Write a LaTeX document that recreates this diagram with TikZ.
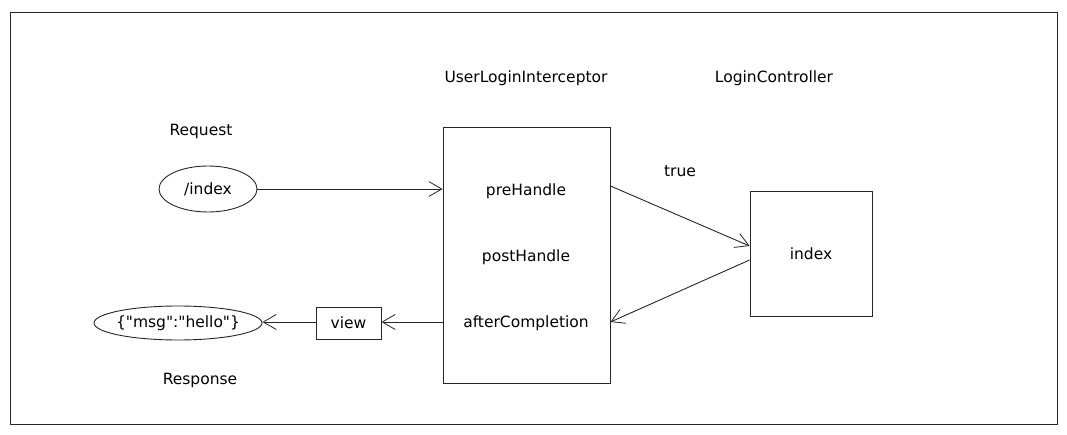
\documentclass[tikz,border=0pt]{standalone}
\usepackage{fontspec}
\setmainfont{DejaVu Sans}
\newfontfamily\rawdv{DejaVu Sans}
\usetikzlibrary{arrows.meta,shapes.geometric}
\begin{document}
\begin{tikzpicture}[x=1pt,y=-1pt,
  sk/.style={draw=black!85,line width=0.9pt},
  lbl/.style={font=\fontsize{15.5}{18}\selectfont,inner sep=0pt},
  arr/.style={draw=black!85,line width=0.9pt,-{Straight Barb[length=13pt,width=15pt,line width=0.8pt]}}]
\useasboundingbox (0,0) rectangle (1067,435);
\draw[black!85,line width=0.8pt] (10,12) rectangle (1057,424);
\node[lbl] (t1) at (526,78) {UserLoginInterceptor};
\node[lbl] (t2) at (774,78) {LoginController};
\node[lbl] (req) at (201,131) {Request};
\node[lbl] (resp) at (200,380) {Response};
\node[sk,ellipse,minimum width=98pt,minimum height=46pt,lbl] (idx) at (208,189) {/index};
\node[sk,rectangle,minimum width=167pt,minimum height=256pt] (ic) at (526.5,255) {};
\node[lbl] (pre) at (526,191) {preHandle};
\node[lbl] (post) at (526,257) {postHandle};
\node[lbl] (after) at (526,323) {afterCompletion};
\node[lbl] (tr) at (680,171) {true};
\node[sk,rectangle,minimum width=122pt,minimum height=125pt,lbl] (ctl) at (811,253.5) {index};
\node[sk,rectangle,minimum width=65pt,minimum height=32pt,lbl] (view) at (348.5,323) {view};
\node[sk,ellipse,minimum width=168pt,minimum height=34pt,inner sep=0pt] (msg) at (178,323) {};
\node[lbl] (msgt) at (msg.center) {\rawdv \{"msg":"hello"\}};
\draw[arr] (idx.east) -- (ic.west |- idx.east);
\draw[arr] (ic.east |- 0,186) -- (ctl.west |- 0,246);
\draw[arr] (ctl.west |- 0,260) -- (ic.east |- 0,322);
\draw[arr] (ic.west |- 0,322) -- (view.east |- 0,322);
\draw[arr] (view.west |- 0,322) -- (msg.east |- 0,322);
\end{tikzpicture}
\end{document}
